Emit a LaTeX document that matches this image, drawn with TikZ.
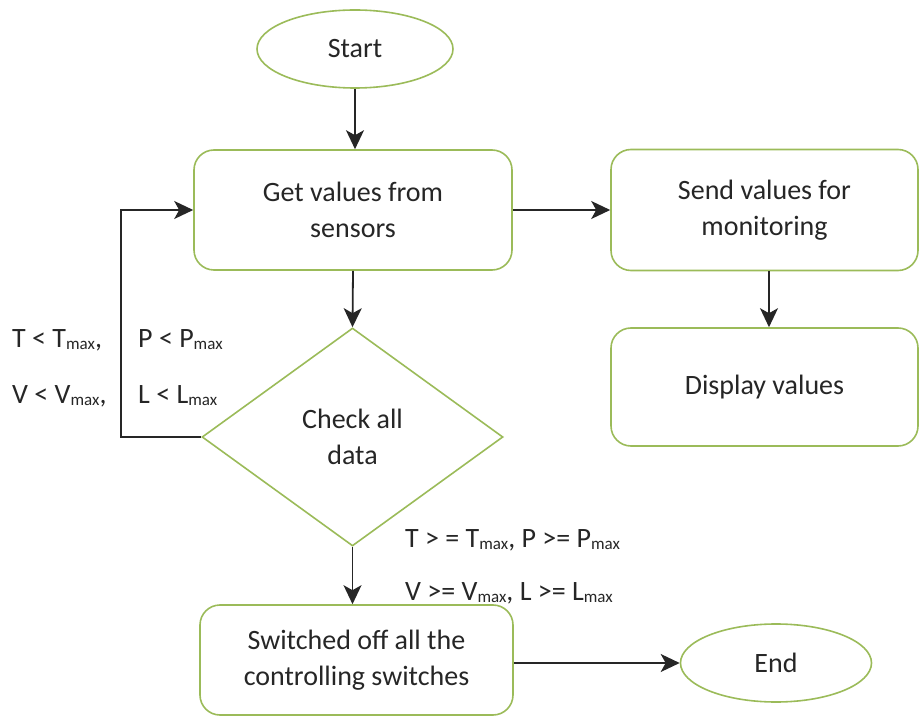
\documentclass[tikz,border=0pt]{standalone}
\usepackage{fontspec}
\setmainfont{Carlito}
\usetikzlibrary{shapes.geometric,arrows.meta}

\definecolor{boxgreen}{RGB}{155,187,89}
\definecolor{ink}{RGB}{38,38,38}

% lowered "max" subscript used in the threshold labels
\newcommand\mxsub{\lower2pt\hbox{\fontsize{17}{17}\selectfont max}}

\begin{document}
\begin{tikzpicture}[x=1pt,y=-1pt,
  every node/.style={font=\fontsize{28}{36}\selectfont, text=ink},
  shapebase/.style={draw=boxgreen, line width=1.6pt, fill=white, inner sep=0pt, align=center},
  terminal/.style={shapebase, ellipse},
  procbox/.style={shapebase, rectangle, rounded corners=20pt},
  decision/.style={shapebase, diamond},
  flow/.style={draw=black!85, line width=1.8pt, -{Stealth[length=19pt,width=18pt,inset=5pt]}},
  cond/.style={anchor=base west, inner sep=0pt}
]
\useasboundingbox (0,0) rectangle (919,719);

% terminals
\node[terminal, minimum width=196pt, minimum height=78pt] (start) at (355,49) {Start};
\node[terminal, minimum width=191pt, minimum height=78pt] (end) at (776,663) {End};

% process boxes
\node[procbox, minimum width=318pt, minimum height=120pt] (get) at (353,210) {Get values from\\sensors};
\node[procbox, minimum width=307pt, minimum height=121pt] (send) at (764.5,210) {Send values for\\monitoring};
\node[procbox, minimum width=307pt, minimum height=118pt] (disp) at (764.5,387) {Display values};
\node[procbox, minimum width=313pt, minimum height=110pt] (sw) at (356.5,660) {Switched off all the\\controlling switches};

% decision
\node[decision, minimum width=301pt, minimum height=218pt] (chk) at (352.5,437) {Check all\\data};

% loop-back corner and the drop between the right-hand boxes
\coordinate (lp) at (121,0);
\coordinate (dx) at (769,0);

% connectors
\draw[flow] (start.south) -- (start.south |- get.north);
\draw[flow] (get.east) -- (send.west);
\draw[flow] (send.south -| dx) -- (disp.north -| dx);
\draw[flow] (get.south) -- (chk.north);
\draw[flow] (chk.west) -- (chk.west -| lp) |- (get.west);
\draw[flow] (chk.south) -- (chk.south |- sw.north);
\draw[flow] (sw.east |- end.west) -- (end.west);

% threshold conditions
\node[cond] (c1) at (12,348) {T < T\mxsub,};
\node[cond] (c2) at (138,348) {P < P\mxsub};
\node[cond] (c3) at (12,403) {V < V\mxsub,};
\node[cond] (c4) at (138,403) {L < L\mxsub};
\node[cond] (c5) at (405,547) {T > = T\mxsub, P >= P\mxsub};
\node[cond] (c6) at (405,600) {V >= V\mxsub, L >= L\mxsub};
\end{tikzpicture}
\end{document}
